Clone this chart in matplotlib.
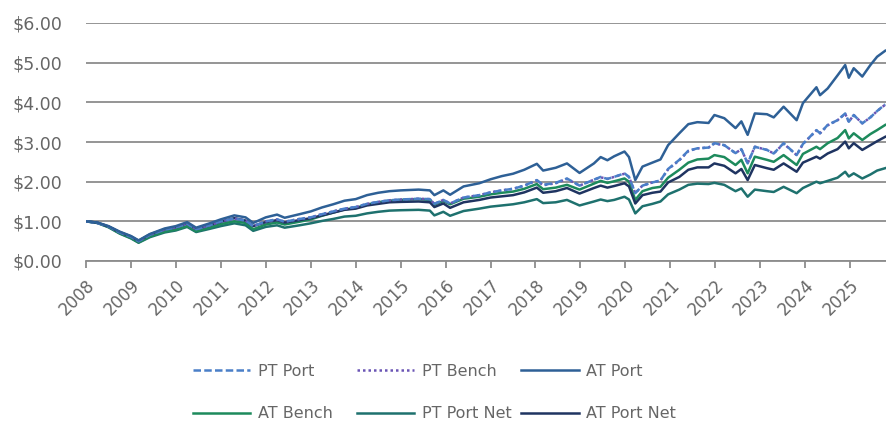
import matplotlib
matplotlib.use("Agg")
import matplotlib.pyplot as plt

# dates as decimal years
dates = [2008.00, 2008.25, 2008.50, 2008.75, 2009.00, 2009.17, 2009.42, 2009.75,
         2010.00, 2010.25, 2010.45, 2010.75, 2011.00, 2011.30, 2011.55, 2011.72,
         2012.00, 2012.25, 2012.42, 2012.75, 2013.00, 2013.25, 2013.50, 2013.75,
         2014.00, 2014.25, 2014.50, 2014.75, 2015.00, 2015.40, 2015.65, 2015.75,
         2015.95, 2016.10, 2016.40, 2016.75, 2017.00, 2017.25, 2017.50, 2017.75,
         2018.03, 2018.17, 2018.45, 2018.70, 2018.98, 2019.30, 2019.45, 2019.60,
         2019.75, 2019.98, 2020.08, 2020.22, 2020.38, 2020.60, 2020.78, 2020.95,
         2021.20, 2021.40, 2021.60, 2021.85, 2021.98, 2022.20, 2022.45, 2022.58,
         2022.72, 2022.88, 2023.15, 2023.30, 2023.52, 2023.81, 2023.95, 2024.25,
         2024.33, 2024.50, 2024.72, 2024.89, 2024.97, 2025.08, 2025.27, 2025.45,
         2025.60, 2025.78]

at_port = [1.00, 0.97, 0.88, 0.74, 0.63, 0.52, 0.68, 0.82,
           0.88, 0.98, 0.84, 0.95, 1.05, 1.15, 1.10, 0.96,
           1.10, 1.17, 1.09, 1.18, 1.25, 1.35, 1.43, 1.52,
           1.56, 1.66, 1.72, 1.76, 1.78, 1.80, 1.78, 1.66,
           1.78, 1.67, 1.88, 1.96, 2.06, 2.14, 2.20, 2.30,
           2.45, 2.28, 2.35, 2.46, 2.22, 2.46, 2.62, 2.54,
           2.64, 2.76, 2.62, 2.04, 2.38, 2.48, 2.56, 2.92,
           3.22, 3.45, 3.50, 3.48, 3.68, 3.60, 3.35, 3.52,
           3.18, 3.72, 3.70, 3.62, 3.89, 3.55, 3.98, 4.38,
           4.18, 4.35, 4.68, 4.94, 4.62, 4.86, 4.65, 4.94,
           5.15, 5.30]

pt_port = [1.00, 0.96, 0.87, 0.72, 0.61, 0.50, 0.66, 0.79,
           0.85, 0.94, 0.80, 0.90, 1.00, 1.07, 1.02, 0.88,
           1.00, 1.05, 0.99, 1.06, 1.10, 1.18, 1.25, 1.32,
           1.36, 1.44, 1.49, 1.53, 1.55, 1.57, 1.56, 1.44,
           1.54, 1.45, 1.60, 1.66, 1.73, 1.78, 1.82, 1.90,
           2.04, 1.92, 1.97, 2.08, 1.90, 2.05, 2.12, 2.07,
           2.12, 2.21, 2.12, 1.71, 1.90, 1.98, 2.03, 2.32,
           2.55, 2.78, 2.84, 2.86, 2.97, 2.92, 2.72, 2.82,
           2.46, 2.88, 2.80, 2.71, 2.97, 2.67, 2.95, 3.30,
           3.22, 3.43, 3.55, 3.72, 3.51, 3.68, 3.47, 3.62,
           3.78, 3.95]

pt_bench = [1.00, 0.96, 0.87, 0.72, 0.61, 0.50, 0.66, 0.79,
            0.85, 0.94, 0.80, 0.90, 1.00, 1.07, 1.02, 0.88,
            1.00, 1.05, 0.99, 1.06, 1.10, 1.18, 1.25, 1.32,
            1.36, 1.44, 1.49, 1.53, 1.55, 1.57, 1.56, 1.44,
            1.54, 1.45, 1.60, 1.66, 1.73, 1.78, 1.82, 1.90,
            2.03, 1.91, 1.96, 2.07, 1.90, 2.05, 2.11, 2.07,
            2.12, 2.20, 2.12, 1.71, 1.90, 1.98, 2.03, 2.31,
            2.54, 2.77, 2.84, 2.86, 2.96, 2.92, 2.72, 2.82,
            2.46, 2.88, 2.80, 2.71, 2.96, 2.67, 2.95, 3.29,
            3.22, 3.42, 3.55, 3.71, 3.51, 3.68, 3.47, 3.62,
            3.78, 3.94]

at_bench = [1.00, 0.96, 0.86, 0.70, 0.58, 0.47, 0.62, 0.74,
            0.79, 0.88, 0.75, 0.84, 0.93, 1.00, 0.96, 0.80,
            0.92, 0.97, 0.92, 0.99, 1.05, 1.14, 1.22, 1.30,
            1.34, 1.42, 1.48, 1.52, 1.54, 1.56, 1.54, 1.42,
            1.51, 1.43, 1.57, 1.62, 1.68, 1.72, 1.75, 1.82,
            1.94, 1.81, 1.85, 1.92, 1.80, 1.95, 2.02, 1.97,
            2.01, 2.08, 2.00, 1.54, 1.76, 1.84, 1.87, 2.10,
            2.30, 2.48, 2.56, 2.58, 2.67, 2.62, 2.42, 2.55,
            2.21, 2.63, 2.55, 2.50, 2.67, 2.42, 2.70, 2.88,
            2.82, 2.97, 3.10, 3.30, 3.09, 3.22, 3.05, 3.20,
            3.30, 3.43]

pt_port_net = [1.00, 0.96, 0.85, 0.69, 0.57, 0.46, 0.60, 0.72,
               0.77, 0.86, 0.73, 0.81, 0.88, 0.95, 0.90, 0.76,
               0.86, 0.90, 0.84, 0.90, 0.95, 1.01, 1.06, 1.12,
               1.14, 1.20, 1.24, 1.27, 1.28, 1.29, 1.27, 1.15,
               1.24, 1.14, 1.26, 1.32, 1.37, 1.40, 1.43, 1.48,
               1.56, 1.46, 1.48, 1.54, 1.40, 1.50, 1.55, 1.51,
               1.54, 1.62, 1.55, 1.20, 1.38, 1.44, 1.50, 1.68,
               1.80, 1.92, 1.95, 1.94, 1.97, 1.92, 1.76, 1.83,
               1.62, 1.80, 1.76, 1.74, 1.87, 1.71, 1.84, 2.00,
               1.96, 2.02, 2.10, 2.25, 2.13, 2.21, 2.08, 2.18,
               2.28, 2.34]

at_port_net = [1.00, 0.97, 0.87, 0.73, 0.62, 0.51, 0.67, 0.80,
               0.85, 0.95, 0.81, 0.90, 0.99, 1.08, 1.02, 0.88,
               0.98, 1.03, 0.97, 1.03, 1.08, 1.15, 1.22, 1.29,
               1.32, 1.40, 1.44, 1.48, 1.49, 1.50, 1.48, 1.36,
               1.45, 1.34, 1.48, 1.54, 1.60, 1.63, 1.66, 1.73,
               1.85, 1.72, 1.76, 1.84, 1.70, 1.84, 1.90, 1.85,
               1.89, 1.96, 1.88, 1.45, 1.66, 1.72, 1.75, 1.98,
               2.12, 2.30, 2.36, 2.36, 2.46, 2.40, 2.21, 2.32,
               2.04, 2.42, 2.34, 2.30, 2.46, 2.25, 2.48, 2.63,
               2.58, 2.71, 2.82, 3.01, 2.84, 2.97, 2.80, 2.92,
               3.02, 3.13]

years = list(range(2008, 2026))
yticks = [0, 1, 2, 3, 4, 5, 6]

plt.rcParams["font.family"] = ["DejaVu Sans"]
txt = "#666666"
grid = "#8c8c8c"

fig = plt.figure(figsize=(8.87, 4.28), dpi=100)
ax = fig.add_axes([86 / 887, 1 - 261 / 428, 1 - 86 / 887, (261 - 23) / 428])

lw = 1.8
ax.plot(dates, pt_port_net, color="#1e716e", lw=lw, label="PT Port Net")
ax.plot(dates, at_bench, color="#1d8a5c", lw=lw, label="AT Bench")
ax.plot(dates, at_port_net, color="#1f3461", lw=lw, label="AT Port Net")
ax.plot(dates, pt_bench, color="#6b55b5", lw=lw, ls=(0, (1, 1.2)), label="PT Bench")
ax.plot(dates, pt_port, color="#4a7fc8", lw=lw, ls=(0, (3, 1.3)), label="PT Port")
ax.plot(dates, at_port, color="#2e6096", lw=lw, label="AT Port")

ax.set_xlim(2008, 2025.82)
ax.set_ylim(0, 6)
ax.set_yticks(yticks)
ax.set_yticklabels([f"${v:.2f}" for v in yticks])
ax.set_xticks(years)
ax.set_xticklabels([str(y) for y in years], rotation=45, ha="right",
                   va="top", rotation_mode="anchor")

for s in ("top", "right", "left"):
    ax.spines[s].set_visible(False)
ax.spines["bottom"].set_color(grid)
ax.spines["bottom"].set_linewidth(1.3)
ax.yaxis.grid(True, color=grid, lw=1.3)
ax.set_axisbelow(True)
ax.tick_params(axis="y", length=0, pad=17, labelsize=12.5, labelcolor=txt)
ax.tick_params(axis="x", length=5, width=1.3, color=grid, pad=6,
               labelsize=12, labelcolor=txt)

# legend: three separate columns so they line up like the original
h = {l.get_label(): l for l in ax.get_lines()}
cols = [(193, ["PT Port", "AT Bench"]),
        (357, ["PT Bench", "PT Port Net"]),
        (521, ["AT Port", "AT Port Net"])]
for x0, names in cols:
    fig.legend([h[n] for n in names], names, loc="upper left",
               bbox_to_anchor=(x0 / 887, 1 - 364 / 428), frameon=False,
               fontsize=11.5, labelcolor=txt, handlelength=3.6,
               handletextpad=0.45, labelspacing=1.72, borderpad=0,
               borderaxespad=0)

fig.savefig("out.png", dpi=100)
